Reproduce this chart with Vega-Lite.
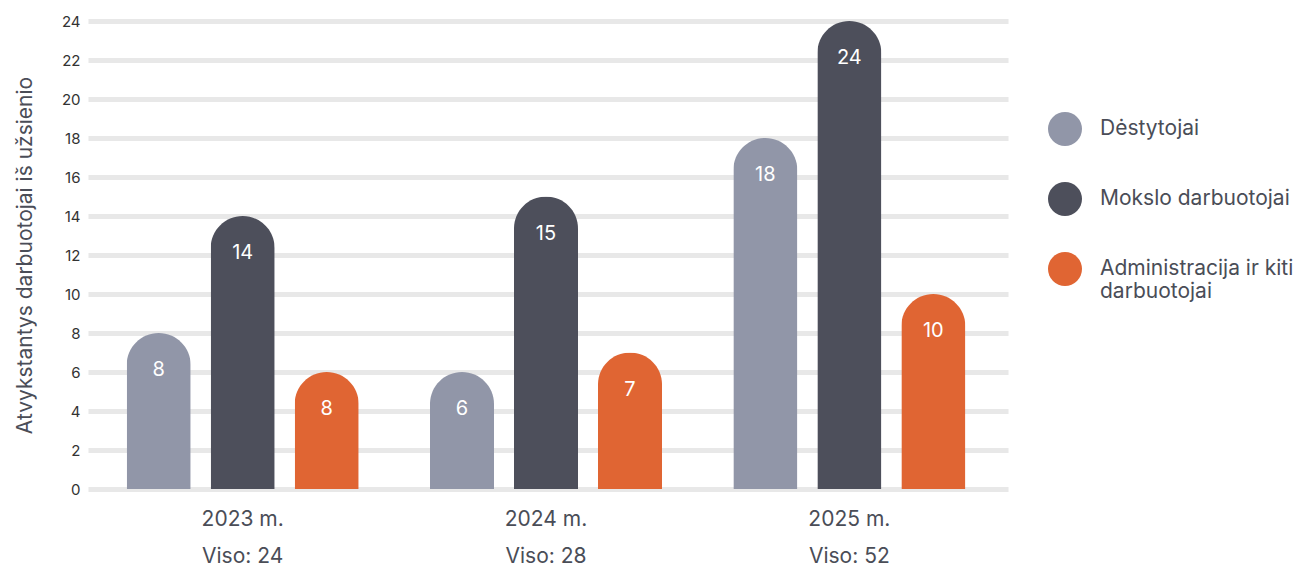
{
  "$schema": "https://vega.github.io/schema/vega-lite/v6.json",
  "autosize": {"type": "none"},
  "width": 920,
  "height": 468,
  "padding": {"left": 88, "top": 21, "right": 290, "bottom": 79},
  "background": "white",
  "config": {
    "font": "Inter",
    "view": {"stroke": null}
  },
  "data": {
    "values": [
      {"year": "2023", "cat": "Dėstytojai", "value": 8, "label": "8"},
      {"year": "2023", "cat": "Mokslo darbuotojai", "value": 14, "label": "14"},
      {"year": "2023", "cat": "Administracija ir kiti darbuotojai", "value": 6, "label": "8"},
      {"year": "2024", "cat": "Dėstytojai", "value": 6, "label": "6"},
      {"year": "2024", "cat": "Mokslo darbuotojai", "value": 15, "label": "15"},
      {"year": "2024", "cat": "Administracija ir kiti darbuotojai", "value": 7, "label": "7"},
      {"year": "2025", "cat": "Dėstytojai", "value": 18, "label": "18"},
      {"year": "2025", "cat": "Mokslo darbuotojai", "value": 24, "label": "24"},
      {"year": "2025", "cat": "Administracija ir kiti darbuotojai", "value": 10, "label": "10"}
    ]
  },
  "encoding": {
    "x": {
      "field": "year",
      "type": "nominal",
      "scale": {"paddingInner": 0, "paddingOuter": 0.0165, "align": 0.3},
      "axis": {
        "title": null,
        "domain": false,
        "ticks": false,
        "labelAngle": 0,
        "labelFontSize": 21,
        "labelColor": "#4a4d57",
        "labelPadding": 19,
        "labelLineHeight": 37,
        "labelBaseline": "top",
        "labelExpr": "datum.value == '2023' ? ['2023 m.', 'Viso: 24'] : datum.value == '2024' ? ['2024 m.', 'Viso: 28'] : ['2025 m.', 'Viso: 52']"
      }
    },
    "xOffset": {
      "field": "cat",
      "type": "nominal",
      "sort": ["Dėstytojai", "Mokslo darbuotojai", "Administracija ir kiti darbuotojai"],
      "scale": {"paddingInner": 0.238, "paddingOuter": 0.4245}
    },
    "y": {
      "field": "value",
      "type": "quantitative",
      "scale": {"domain": [0, 24], "nice": false},
      "axis": {
        "title": "Atvykstantys darbuotojai iš užsienio",
        "titleFontSize": 21,
        "titleFontWeight": "normal",
        "titleColor": "#4a4d57",
        "titlePadding": 26,
        "values": [0, 2, 4, 6, 8, 10, 12, 14, 16, 18, 20, 22, 24],
        "domain": false,
        "ticks": false,
        "labelFontSize": 15,
        "labelColor": "#333333",
        "labelPadding": 8,
        "grid": true,
        "gridColor": "#e8e8e8",
        "gridWidth": 5
      }
    }
  },
  "layer": [
    {
      "mark": {"type": "bar", "cornerRadiusTopLeft": 32, "cornerRadiusTopRight": 32},
      "encoding": {
        "color": {
          "field": "cat",
          "type": "nominal",
          "sort": ["Dėstytojai", "Mokslo darbuotojai", "Administracija ir kiti darbuotojai"],
          "scale": {
            "domain": ["Dėstytojai", "Mokslo darbuotojai", "Administracija ir kiti darbuotojai"],
            "range": ["#9196a8", "#4d4f5b", "#e06533"]
          },
          "legend": {
            "title": null,
            "orient": "none",
            "legendX": 960,
            "legendY": 91,
            "symbolType": "circle",
            "symbolSize": 1156,
            "symbolStrokeWidth": 0,
            "symbolOpacity": 1,
            "labelFontSize": 21,
            "labelColor": "#4a4d57",
            "labelOffset": 18,
            "labelLimit": 300,
            "labelLineHeight": 23,
            "rowPadding": 36,
            "labelExpr": "datum.label == 'Administracija ir kiti darbuotojai' ? ['Administracija ir kiti', 'darbuotojai'] : datum.label"
          }
        }
      }
    },
    {
      "mark": {"type": "text", "color": "white", "fontSize": 20, "dy": 37, "baseline": "middle"},
      "encoding": {"text": {"field": "label"}}
    }
  ]
}
